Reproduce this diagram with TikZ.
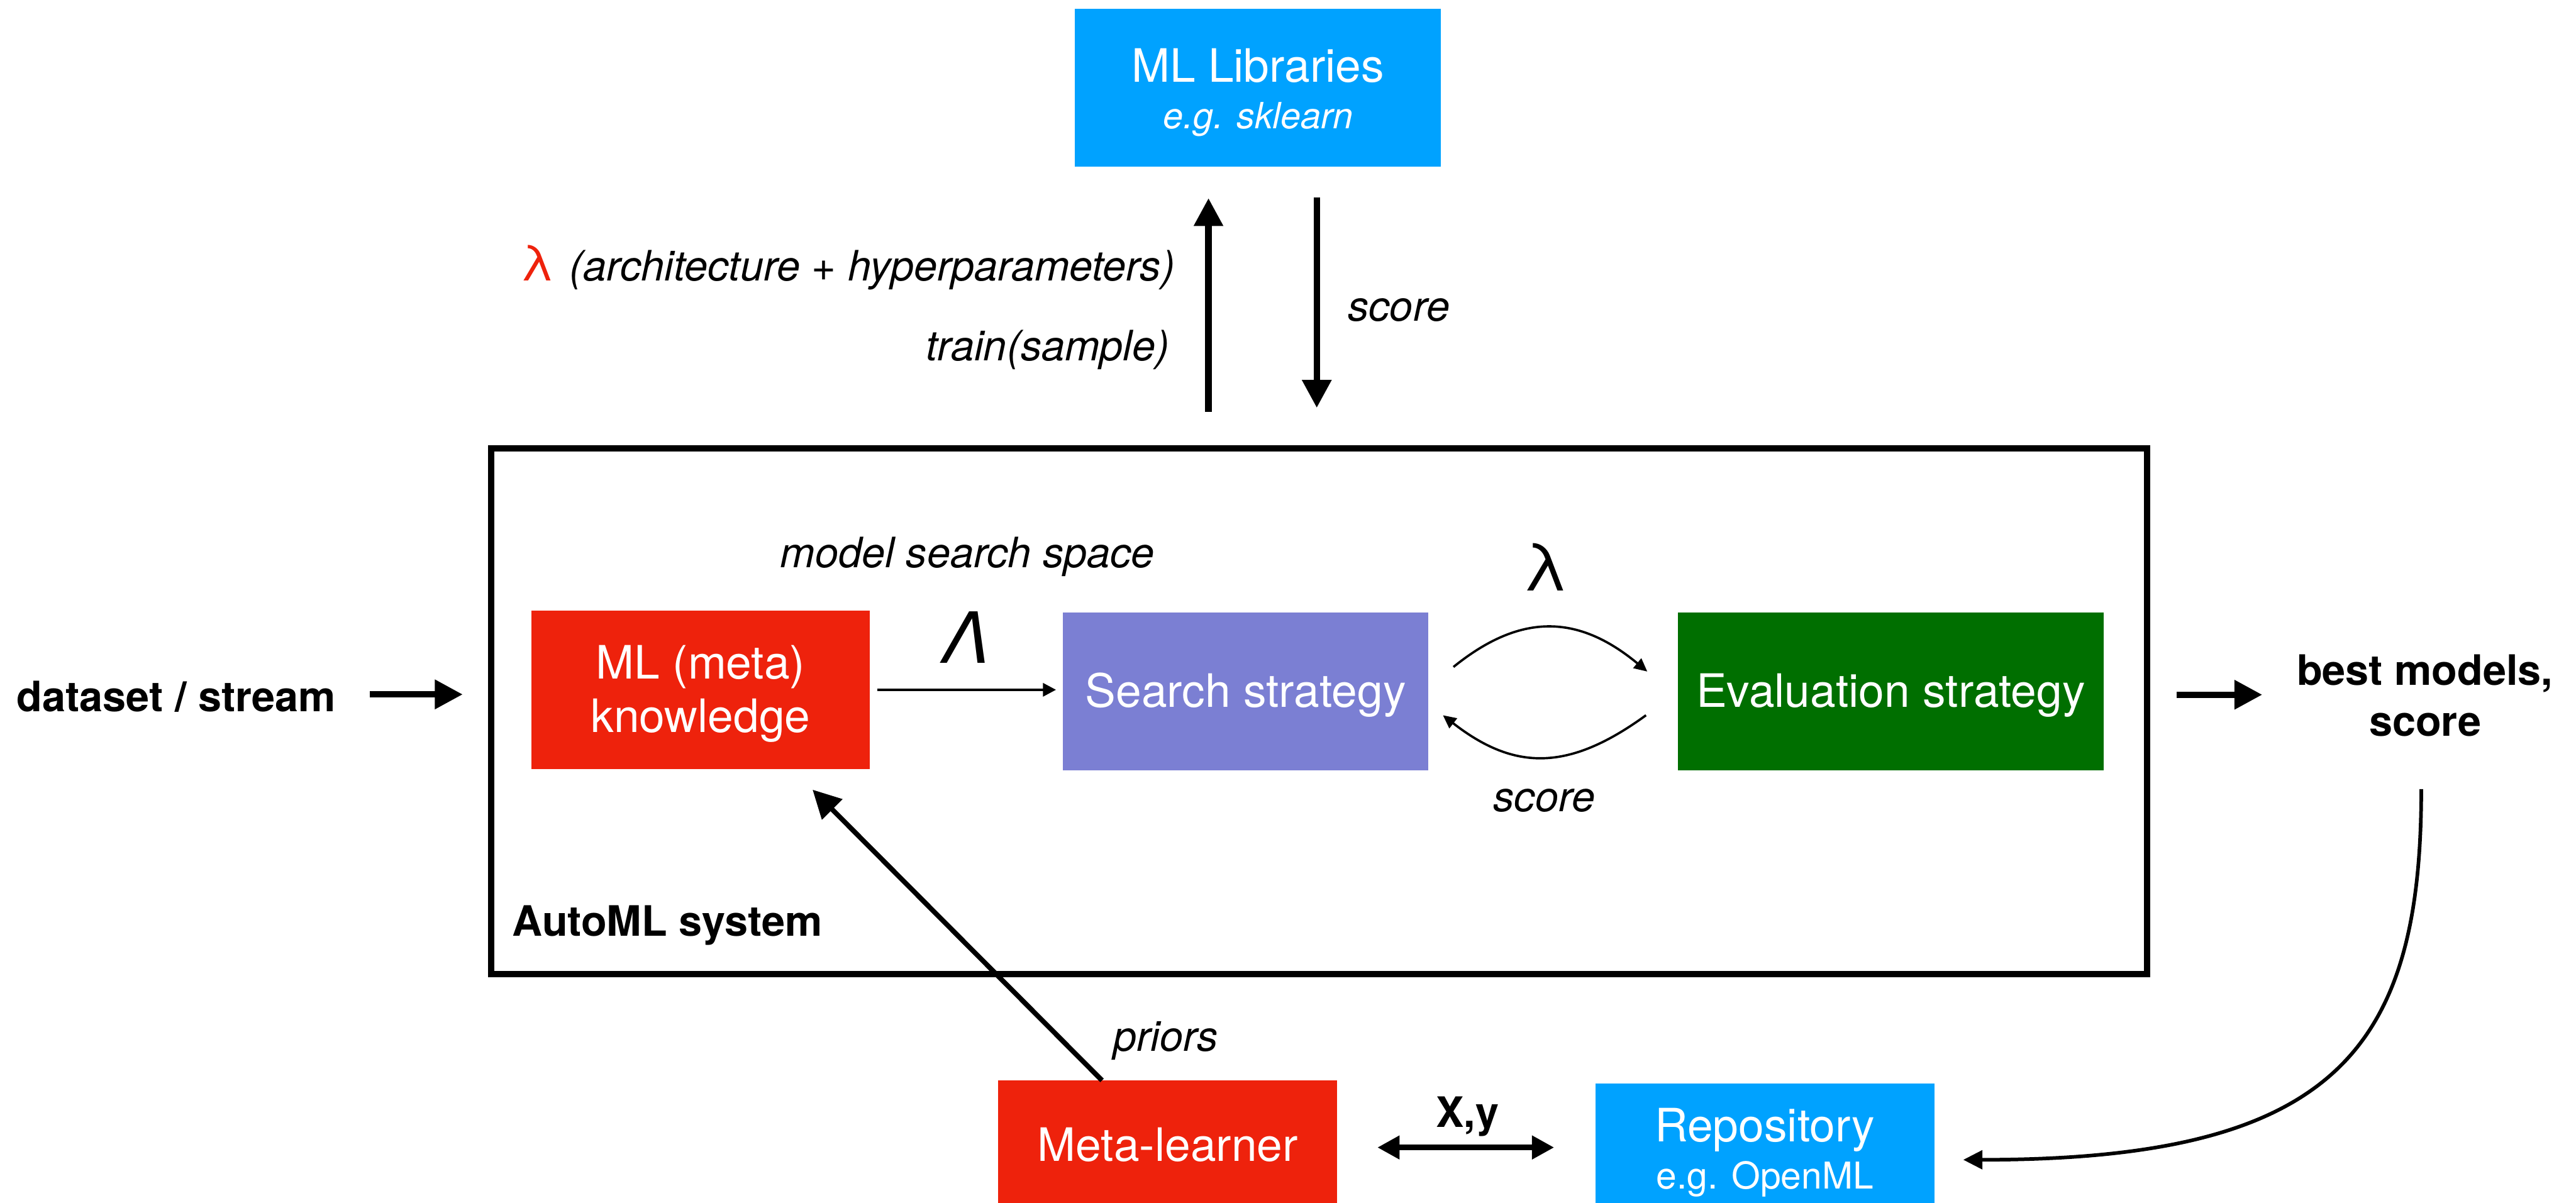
\documentclass[tikz,border=0pt]{standalone}
\usepackage{fontspec}
\setmainfont{TeX Gyre Heros}
\usetikzlibrary{arrows.meta,calc}

\definecolor{libblue}{HTML}{00A2FF}
\definecolor{kred}{HTML}{EE220C}
\definecolor{searchviolet}{HTML}{7B7FD3}
\definecolor{evalgreen}{HTML}{006F00}

\begin{document}
\begin{tikzpicture}[x=1pt,y=-1pt,
  every node/.style={inner sep=0pt,outer sep=0pt},
  fillbox/.style={rectangle,draw=none},
  boxtxt/.style={anchor=base,text=white,font=\fontsize{28}{32}\selectfont},
  subtxt/.style={anchor=base,text=white,font=\fontsize{22.5}{26}\selectfont},
  subitxt/.style={anchor=base,text=white,font=\fontsize{22}{26}\selectfont\itshape},
  lbl/.style={font=\fontsize{25.5}{30}\selectfont},
  ilbl/.style={font=\fontsize{25.5}{30}\selectfont\itshape},
  blbl/.style={font=\fontsize{25.5}{30}\selectfont\bfseries},
  heavy/.style={line width=4pt,-{Triangle[length=17pt,width=17pt]}},
  medium/.style={line width=3pt,-{Triangle[length=17pt,width=17pt]}},
  slim/.style={line width=1.6pt,-{Triangle[length=8pt,width=8pt]}},
  loop/.style={line width=1.4pt,-{Triangle[length=8pt,width=7.5pt]}},
  feedback/.style={line width=2.2pt,-{Triangle[length=11.7pt,width=11.3pt]}},
  both/.style={line width=3.5pt,{Triangle[length=13.5pt,width=13.7pt]}-{Triangle[length=13.5pt,width=13.7pt]}}
]
\useasboundingbox (0,0) rectangle (1568,732);

% ML libraries
\node[fillbox,fill=libblue,minimum width=222.9pt,minimum height=96.1pt] (lib) at (765.65,53.25) {};
\node[boxtxt] (libA) at (765.65,49.8) {ML Libraries};
\node[subitxt] (libB) at (765.65,78.1) {e.g. sklearn};

% labels of the training loop
\node[anchor=base,text=kred,font=\fontsize{30}{34}\selectfont] (lamr) at (327,171) {λ};
\node[ilbl,anchor=base west] (archT) at (346.6,171) {(architecture + hyperparameters)};
\node[ilbl,anchor=base east] (trainT) at (711.9,219.7) {train(sample)};
\node[ilbl,anchor=base west] (scoreA) at (820.5,195.3) {score};

% AutoML system frame
\node[draw,line width=4pt,minimum width=1008pt,minimum height=320pt] (automl) at (803,433) {};
\node[blbl,anchor=base west] (automlT) at (311.8,569.7) {AutoML system};

% inner components
\node[fillbox,fill=kred,minimum width=206.1pt,minimum height=96.2pt] (mlk) at (426.45,419.9) {};
\node[boxtxt] (mlkA) at (426.45,413.3) {ML (meta)};
\node[boxtxt] (mlkB) at (426.45,445.9) {knowledge};

\node[fillbox,fill=searchviolet,minimum width=222.6pt,minimum height=96.3pt] (search) at (758.2,420.85) {};
\node[boxtxt] (searchT) at (758.2,430.6) {Search strategy};

\node[fillbox,fill=evalgreen,minimum width=258.8pt,minimum height=96.3pt] (eval) at (1150.9,420.85) {};
\node[boxtxt] (evalT) at (1150.9,430.6) {Evaluation strategy};

\node[ilbl,anchor=base west] (mss) at (475,345.5) {model search space};
\node[anchor=base,font=\fontsize{43}{48}\selectfont\itshape] (bigL) at (588,403.7) {Λ};
\node[anchor=base,font=\fontsize{40}{44}\selectfont] (laml) at (940.7,359.8) {λ};
\node[ilbl,anchor=base west] (scoreB) at (909,494) {score};

% input and output
\node[blbl,anchor=base west] (dataset) at (10.1,433) {dataset / stream};
\node[blbl,anchor=base] (bestA) at (1476,417.2) {best models,};
\node[blbl,anchor=base] (bestB) at (1476.2,448) {score};

% meta-learning
\node[fillbox,fill=kred,minimum width=206.4pt,minimum height=82.3pt] (meta) at (710.8,698.85) {};
\node[boxtxt] (metaT) at (710.8,706.7) {Meta-learner};
\node[fillbox,fill=libblue,minimum width=206.4pt,minimum height=80.5pt] (repo) at (1074.2,699.75) {};
\node[boxtxt] (repoA) at (1074.2,695) {Repository};
\node[subtxt] (repoB) at (1074.2,723.6) {e.g. OpenML};
\node[ilbl,anchor=base west] (priors) at (677.6,640) {priors};
\node[blbl,anchor=base west] (xy) at (874,686) {X,y};

% connectors
\coordinate (upx) at (735.6,0);
\coordinate (dnx) at (801.5,0);
\coordinate (iny) at (0,422.7);
\coordinate (outy) at (0,422.9);

\draw[heavy,shorten <=22.4pt,shorten >=19.3pt] (automl.north -| upx) -- (lib.south -| upx);
\draw[heavy,shorten <=18.8pt,shorten >=24.7pt] (lib.south -| dnx) -- (automl.north -| dnx);
\draw[heavy,shorten <=20.8pt,shorten >=17.3pt] (dataset.east |- iny) -- (automl.west |- iny);
\draw[heavy,shorten <=18pt,shorten >=21pt] (automl.east |- outy) -- (bestA.west |- outy);

\draw[slim,shorten <=4.5pt,shorten >=4.1pt] (mlk.east) -- (search.west |- mlk.east);

\draw[loop] ($(search.east)+(15.2,-14.85)$) .. controls +(40.3,-32.6) and +(-42.7,-35.4) .. ($(eval.west)+(-18.8,-12.05)$);
\draw[loop] ($(eval.west)+(-19.6,14.55)$) .. controls +(-46.9,34.1) and +(43.7,34.1) .. ($(search.east)+(8.8,14.55)$);

\draw[medium] ([xshift=-40pt]meta.north) -- ($(mlk.south)+(68.15,12.7)$);
\draw[both] ($(meta.east)+(24.4,-0.35)$) -- ($(repo.west)+(-25,-1.25)$);
\draw[feedback] ($(bestB.base)+(-2.4,32.4)$) .. controls +(0,159.6) and +(225,0) .. ($(repo.east)+(17.6,6.25)$);

\end{tikzpicture}
\end{document}
